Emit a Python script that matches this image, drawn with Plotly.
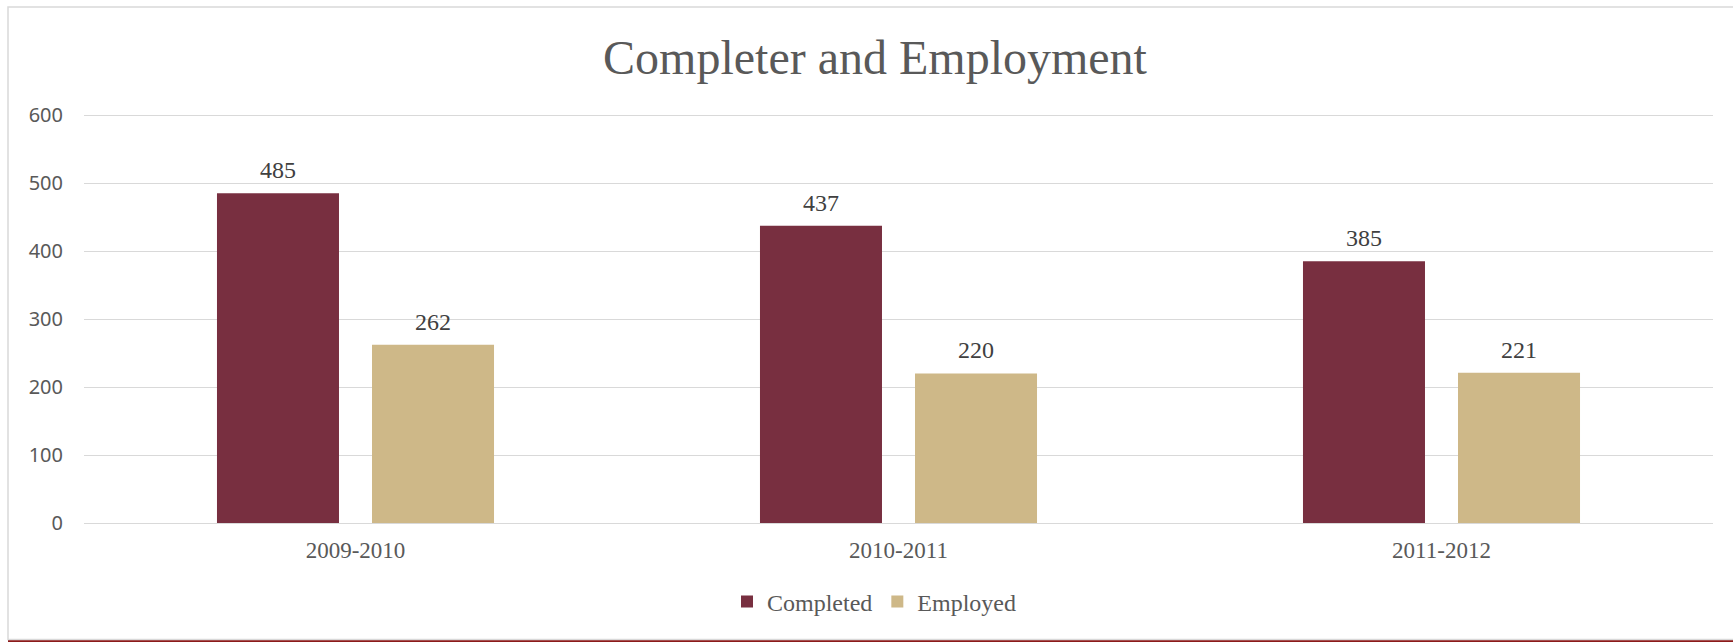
import plotly.graph_objects as go

categories = ["2009-2010", "2010-2011", "2011-2012"]
completed = [485, 437, 385]
employed = [262, 220, 221]
y_ticks = [0, 100, 200, 300, 400, 500, 600]

MAROON = "#782F40"
GOLD = "#CEB888"
SERIF = "Liberation Serif, Times New Roman, serif"
SANS = "Noto Sans, Open Sans, sans-serif"

W, H = 1733, 642
L, R, T, B = 84, 20, 108, 119
pw = W - L - R
ph = H - T - B

def px_x(p):
    return (p - L) / pw

def px_y(p):
    return (H - B - p) / ph

fig = go.Figure()
fig.add_trace(go.Bar(name="Completed", x=categories, y=completed,
                     marker=dict(color=MAROON, line=dict(width=0))))
fig.add_trace(go.Bar(name="Employed", x=categories, y=employed,
                     marker=dict(color=GOLD, line=dict(width=0))))

slot = pw / len(categories) * (1 - 0.429) / 2
for vals, sh in ((completed, -slot / 2), (employed, slot / 2)):
    for c, v in zip(categories, vals):
        fig.add_annotation(x=c, y=v, xref="x", yref="y", text=str(v),
                           showarrow=False, xshift=sh, yshift=8,
                           yanchor="bottom",
                           font=dict(family=SERIF, size=24, color="#404040"))

shapes = [
    dict(type="rect", xref="paper", yref="paper",
         x0=px_x(8), x1=px_x(1745), y0=px_y(639.5), y1=px_y(7),
         line=dict(color="#d9d9d9", width=1.5), fillcolor="rgba(0,0,0,0)", layer="below"),
    dict(type="line", xref="paper", yref="paper",
         x0=px_x(8), x1=px_x(1745), y0=px_y(641.3), y1=px_y(641.3),
         line=dict(color="#8B1A1A", width=2)),
]

fig.update_layout(
    width=W, height=H,
    margin=dict(l=L, r=R, t=T, b=B),
    paper_bgcolor="white", plot_bgcolor="white",
    barmode="group", bargap=0.429, bargroupgap=0.213,
    title=dict(text="Completer and Employment", x=875 / W, xref="container",
               xanchor="center", y=1 - 57 / H, yref="container", yanchor="middle",
               font=dict(family=SERIF, size=48, color="#595959")),
    xaxis=dict(showgrid=False, showline=False, zeroline=False, ticks="",
               tickfont=dict(family=SERIF, size=23, color="#595959"),
               ticklabelstandoff=11),
    yaxis=dict(range=[0, ph / 0.68], tickvals=y_ticks, showgrid=True,
               gridcolor="#d9d9d9", gridwidth=1.3, zeroline=True,
               zerolinecolor="#d9d9d9", zerolinewidth=1.3, showline=False,
               ticks="", tickfont=dict(family=SANS, size=20, color="#595959"),
               ticklabelstandoff=20),
    legend=dict(orientation="h", x=px_x(874), xanchor="center",
                y=px_y(602), yanchor="middle",
                font=dict(family=SERIF, size=24, color="#595959"),
                itemwidth=30, traceorder="normal"),
    shapes=shapes,
    showlegend=True,
)

fig.write_html("out.html")
